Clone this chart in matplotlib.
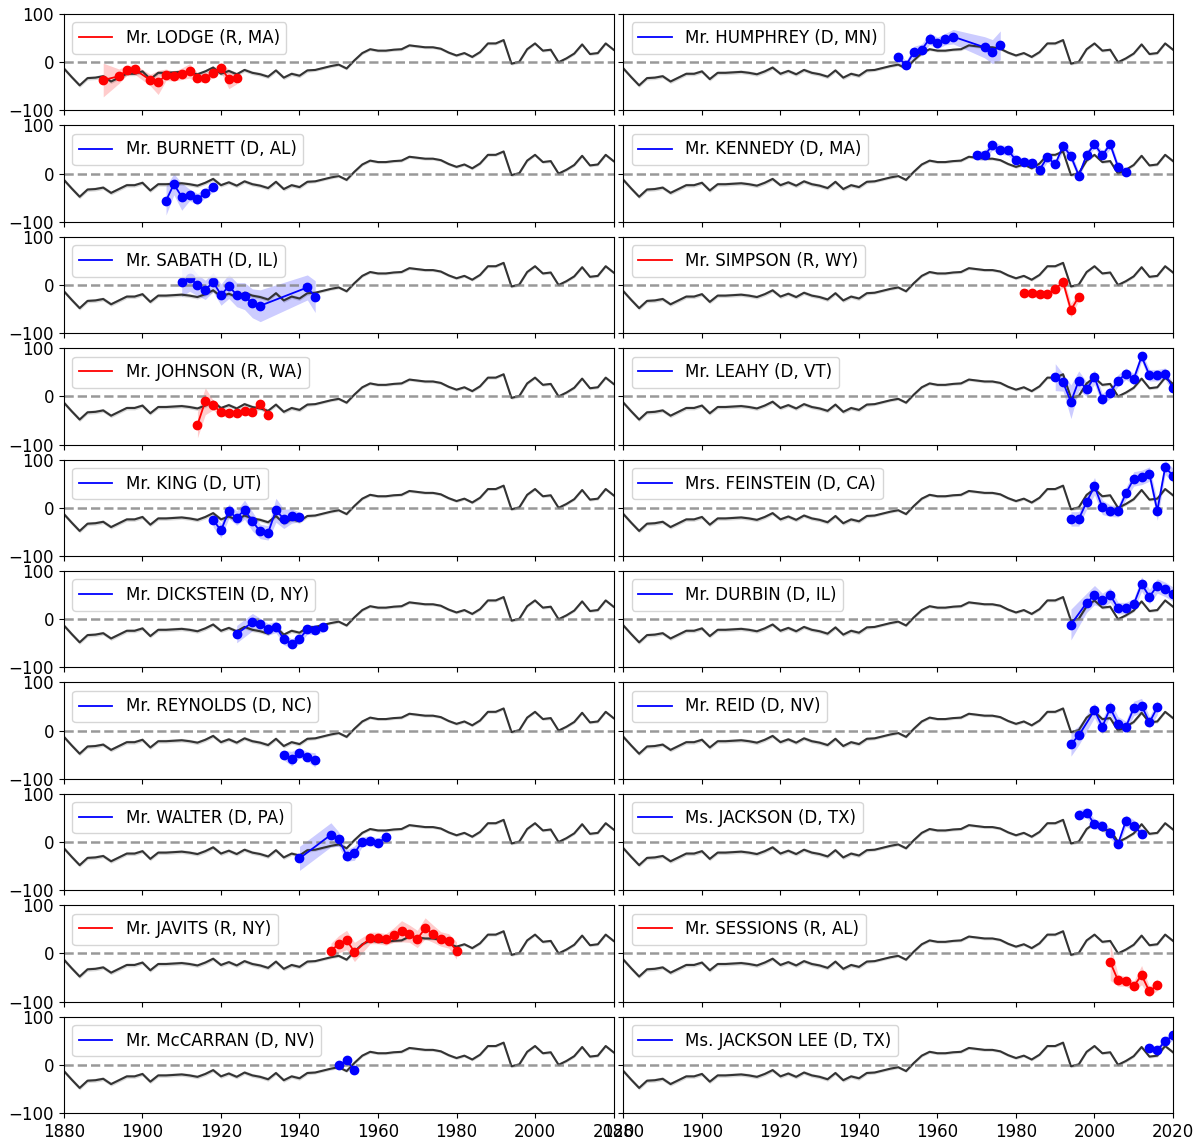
import numpy as np
import matplotlib
matplotlib.use("Agg")
import matplotlib.pyplot as plt

# chamber-wide average (every congress, 1880-2020)
avg_years = list(range(1880, 2021, 2))
avg_vals = [-13, -31, -48, -33, -32, -29, -40, -32, -24, -24, -19, -35, -22, -22, -21, -20,
            -22, -25, -19, -11, -24, -18, -25, -16, -22, -25, -30, -17, -32, -24, -28, -17,
            -16, -12, -8, -5, -13, 4, 19, 27, 24, 24, 26, 27, 35, 33, 31, 31, 28, 20, 14, 19,
            11, 21, 39, 39, 46, -3, 1, 27, 39, 24, 26, 0, 8, 18, 37, 17, 19, 39, 26]
avg_err = [4, 4, 4, 4, 4, 4, 4, 4, 4, 4, 4, 4, 4, 4, 4, 4, 4, 4, 4, 4, 4, 4, 4, 4, 4, 4,
           4, 4, 4, 4, 4, 4, 3, 3, 3, 3, 3, 3, 3, 3, 3, 3, 3, 3, 3, 3, 3, 3, 3, 3, 3, 3,
           3, 3, 3, 3, 3, 3, 3, 3, 3, 3, 3, 3, 3, 3, 3, 3, 3, 3, 3]

# speakers (column-major: left column top->bottom, then right column)
names = ["Mr. LODGE (R, MA)", "Mr. BURNETT (D, AL)", "Mr. SABATH (D, IL)", "Mr. JOHNSON (R, WA)",
         "Mr. KING (D, UT)", "Mr. DICKSTEIN (D, NY)", "Mr. REYNOLDS (D, NC)", "Mr. WALTER (D, PA)",
         "Mr. JAVITS (R, NY)", "Mr. McCARRAN (D, NV)",
         "Mr. HUMPHREY (D, MN)", "Mr. KENNEDY (D, MA)", "Mr. SIMPSON (R, WY)", "Mr. LEAHY (D, VT)",
         "Mrs. FEINSTEIN (D, CA)", "Mr. DURBIN (D, IL)", "Mr. REID (D, NV)", "Ms. JACKSON (D, TX)",
         "Mr. SESSIONS (R, AL)", "Ms. JACKSON LEE (D, TX)"]

sp_years = [
    [1890, 1894, 1896, 1898, 1902, 1904, 1906, 1908, 1910, 1912, 1914, 1916, 1918, 1920, 1922, 1924],
    [1906, 1908, 1910, 1912, 1914, 1916, 1918],
    [1910, 1912, 1914, 1916, 1918, 1920, 1922, 1924, 1926, 1928, 1930, 1942, 1944],
    [1914, 1916, 1918, 1920, 1922, 1924, 1926, 1928, 1930, 1932],
    [1918, 1920, 1922, 1924, 1926, 1928, 1930, 1932, 1934, 1936, 1938, 1940],
    [1924, 1928, 1930, 1932, 1934, 1936, 1938, 1940, 1942, 1944, 1946],
    [1936, 1938, 1940, 1942, 1944],
    [1940, 1948, 1950, 1952, 1954, 1956, 1958, 1960, 1962],
    [1948, 1950, 1952, 1954, 1958, 1960, 1962, 1964, 1966, 1968, 1970, 1972, 1974, 1976, 1978, 1980],
    [1950, 1952, 1954],
    [1950, 1952, 1954, 1956, 1958, 1960, 1962, 1964, 1972, 1974, 1976],
    [1970, 1972, 1974, 1976, 1978, 1980, 1982, 1984, 1986, 1988, 1990, 1992, 1994, 1996, 1998,
     2000, 2002, 2004, 2006, 2008],
    [1982, 1984, 1986, 1988, 1990, 1992, 1994, 1996],
    [1990, 1992, 1994, 1996, 1998, 2000, 2002, 2004, 2006, 2008, 2010, 2012, 2014, 2016, 2018, 2020],
    [1994, 1996, 1998, 2000, 2002, 2004, 2006, 2008, 2010, 2012, 2014, 2016, 2018, 2020],
    [1994, 1998, 2000, 2002, 2004, 2006, 2008, 2010, 2012, 2014, 2016, 2018, 2020],
    [1994, 1996, 2000, 2002, 2004, 2006, 2008, 2010, 2012, 2014, 2016],
    [1996, 1998, 2000, 2002, 2004, 2006, 2008, 2010, 2012],
    [2004, 2006, 2008, 2010, 2012, 2014, 2016],
    [2014, 2016, 2018, 2020],
]
sp_vals = [
    [-37, -29, -17, -15, -37, -42, -26, -29, -24, -18, -32, -32, -22, -11, -35, -33],
    [-56, -22, -48, -44, -53, -40, -28],
    [6, 15, 0, -10, 6, -20, -3, -20, -23, -38, -43, -5, -24],
    [-59, -10, -18, -33, -35, -35, -30, -33, -15, -38],
    [-25, -47, -7, -21, -4, -28, -49, -52, -5, -23, -17, -19],
    [-31, -6, -10, -21, -16, -41, -51, -41, -21, -22, -17],
    [-51, -58, -46, -54, -61],
    [-34, 15, 6, -28, -23, 1, 3, -2, 10],
    [6, 19, 28, 3, 32, 32, 29, 38, 46, 41, 30, 52, 41, 30, 26, 6],
    [-1, 9, -11],
    [10, -6, 21, 26, 49, 40, 48, 53, 31, 22, 35],
    [38, 38, 59, 50, 48, 28, 25, 23, 8, 34, 19, 58, 36, -4, 39, 61, 38, 61, 14, 3],
    [-16, -17, -19, -19, -8, 6, -52, -24],
    [40, 29, -11, 33, 15, 40, -6, 8, 33, 47, 36, 83, 44, 44, 47, 17],
    [-23, -23, 12, 45, 1, -6, -7, 30, 60, 63, 70, -6, 84, 67],
    [-11, 34, 50, 39, 50, 23, 23, 31, 73, 47, 69, 62, 52],
    [-28, -10, 42, 8, 47, 14, 8, 46, 52, 17, 48],
    [57, 61, 37, 34, 18, -4, 44, 34, 17],
    [-18, -56, -58, -68, -45, -79, -65],
    [35, 30, 49, 61],
]
sp_err = [
    [35, 15, 10, 10, 12, 25, 12, 10, 12, 15, 10, 10, 10, 10, 20, 12],
    [30, 22, 28, 12, 12, 10, 10],
    [30, 28, 22, 20, 20, 22, 25, 25, 28, 30, 33, 26, 33],
    [27, 28, 10, 8, 8, 8, 8, 8, 8, 8],
    [15, 15, 15, 15, 20, 20, 15, 15, 25, 20, 15, 10],
    [18, 18, 12, 12, 12, 12, 10, 10, 10, 10, 10],
    [10, 15, 10, 10, 15],
    [25, 25, 15, 12, 15, 10, 10, 10, 10],
    [15, 18, 20, 20, 12, 12, 12, 15, 22, 18, 18, 22, 18, 15, 15, 18],
    [4, 4, 4],
    [12, 8, 12, 12, 12, 12, 12, 15, 22, 25, 30],
    [10, 10, 10, 10, 10, 8, 8, 8, 8, 10, 8, 10, 10, 8, 8, 8, 8, 10, 8, 8],
    [8, 8, 8, 8, 8, 12, 15, 8],
    [28, 18, 35, 20, 15, 15, 12, 12, 12, 12, 12, 10, 12, 12, 12, 10],
    [15, 15, 15, 18, 15, 12, 12, 12, 15, 15, 15, 20, 15, 15],
    [32, 20, 20, 15, 15, 12, 12, 12, 15, 15, 15, 15, 15],
    [25, 20, 15, 15, 15, 15, 12, 15, 15, 12, 15],
    [10, 10, 10, 10, 10, 8, 12, 12, 10],
    [38, 12, 10, 10, 20, 10, 12],
    [8, 8, 8, 10],
]

plt.rcParams.update({"font.size": 12})
fig, axes = plt.subplots(10, 2, figsize=(12, 11.42), sharex=True, sharey=True)
fig.subplots_adjust(left=0.0533, right=0.9775, top=0.9877, bottom=0.0254, hspace=0.156, wspace=0.018)

ay, av, ae = np.array(avg_years), np.array(avg_vals), np.array(avg_err)
for i, name in enumerate(names):
    ax = axes[i % 10, i // 10]
    col = "red" if "(R," in name else "blue"
    ax.fill_between(ay, av - ae, av + ae, color="grey", alpha=0.3, lw=0)
    ax.plot(ay, av, color="#333333", lw=1.5)
    ax.axhline(0, color="grey", ls="--", lw=1.8, alpha=0.8)
    x, y, e = np.array(sp_years[i]), np.array(sp_vals[i]), np.array(sp_err[i])
    ax.fill_between(x, y - e, y + e, color=col, alpha=0.2, lw=0)
    ax.plot(x, y, color=col, lw=1.3, label=name)
    ax.plot(x, y, "o", color=col, ms=6)
    ax.legend(loc="upper left")
    ax.set_xlim(1880, 2020); ax.set_ylim(-100, 100)
    ax.set_xticks(range(1880, 2021, 20)); ax.set_yticks([-100, 0, 100])

fig.savefig("out.png", dpi=100)
